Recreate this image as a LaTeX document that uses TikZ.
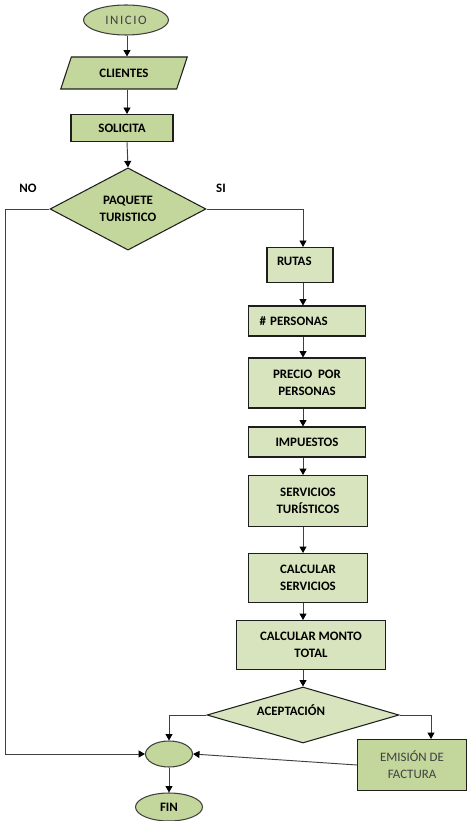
\documentclass[tikz,border=0pt]{standalone}
\usepackage{fontspec}
\setmainfont{Carlito}
\usetikzlibrary{shapes.geometric, arrows.meta}
\definecolor{leaf}{RGB}{195, 214, 155}
\definecolor{pale}{RGB}{215, 228, 189}
\definecolor{ink}{RGB}{30, 30, 30}
\definecolor{wire}{RGB}{64, 64, 64}
\definecolor{soft}{RGB}{64, 64, 64}
\def\pxu{0.03cm}

\begin{document}
\begin{tikzpicture}[x=0.03cm, y=-0.03cm,
  font=\fontsize{11}{14.5}\selectfont\bfseries,
  box/.style={draw=ink, line width=0.9pt, fill=pale, align=center, inner sep=0pt},
  term/.style={ellipse, draw=wire, line width=0.9pt, fill=leaf, inner sep=0pt},
  thin/.style={font=\fontsize{11}{14.5}\selectfont, text=soft},
  flow/.style={draw=wire, line width=0.8pt, -{Triangle[length=5.5pt, width=6pt, color=black]}}]
  \useasboundingbox (0,0) rectangle (467,821);

  % upper part
  \node[term, thin, minimum width=85*\pxu, minimum height=30*\pxu] (inicio) at (126,20) {\addfontfeature{LetterSpace=12}INICIO};
  \node[box, fill=leaf, trapezium, trapezium left angle=60, trapezium right angle=120,
        trapezium stretches=true, minimum width=127*\pxu, minimum height=32*\pxu] (clientes) at (124,73) {CLIENTES};
  \node[box, fill=leaf, minimum width=102*\pxu, minimum height=27*\pxu] (solicita) at (122,128) {SOLICITA};
  \node[box, fill=leaf, diamond, minimum width=156*\pxu, minimum height=78*\pxu] (paquete) at (128,209) {PAQUETE\\TURISTICO};
  \node (no) at (28,188) {NO};
  \node (si) at (221,188) {SI};

  % right column
  \node[box, minimum width=66*\pxu, minimum height=35*\pxu, text width=46*\pxu, align=left] (rutas) at (300,265) {\raisebox{0.24cm}{RUTAS}};
  \node[box, minimum width=117*\pxu, minimum height=30*\pxu, text width=95*\pxu, align=left] (personas) at (307,321) {\# PERSONAS};
  \foreach \n/\x/\y/\w/\h/\t in {precio/307/383/117/50/{PRECIO\ \ POR\\PERSONAS},
      impuestos/307/442/117/30/{IMPUESTOS}, servicios/308/501/119/51/{SERVICIOS\\TURÍSTICOS},
      calcserv/308/578/119/49/{CALCULAR\\SERVICIOS}, monto/311/645/149/49/{CALCULAR MONTO\\TOTAL}} {
    \node[box, minimum width=\w*\pxu, minimum height=\h*\pxu] (\n) at (\x,\y) {\t};
  }
  \node[box, diamond, minimum width=192*\pxu, minimum height=56*\pxu] (aceptacion) at (303,715) {};
  \node (aceptaciontxt) at (291,710) {ACEPTACIÓN};

  % lower part
  \node[term, minimum width=47*\pxu, minimum height=26*\pxu] (union) at (169,754) {};
  \node[box, thin, fill=leaf, minimum width=109*\pxu, minimum height=51*\pxu] (emision) at (412,765) {EMISIÓN DE\\FACTURA};
  \node[term, minimum width=67*\pxu, minimum height=28*\pxu] (fin) at (169,807) {FIN};

  \coordinate (main) at (127,0);
  \coordinate (col) at (303,0);
  \coordinate (nox) at (5,0);
  \coordinate (emitx) at (431,0);

  \draw[flow] (inicio.south -| main) -- (clientes.north -| main);
  \draw[flow] (clientes.south -| main) -- (solicita.north -| main);
  \draw[flow] (solicita.south -| main) -- (paquete.north);
  \draw[flow] (paquete.west) -- (paquete.west -| nox) |- (union.west);
  \draw[flow] (paquete.east) -| (rutas.north -| col);
  \foreach \a/\b in {rutas/personas, personas/precio, precio/impuestos, impuestos/servicios,
      servicios/calcserv, calcserv/monto, monto/aceptacion} {
    \draw[flow] (\a.south -| col) -- (\b.north -| col);
  }
  \draw[flow] (aceptacion.west) -| (union.north);
  \draw[flow] (aceptacion.east) -| (emision.north -| emitx);
  \draw[flow] (emision.west) -- (union.east);
  \draw[flow] (union.south) -- (fin.north);
\end{tikzpicture}
\end{document}
